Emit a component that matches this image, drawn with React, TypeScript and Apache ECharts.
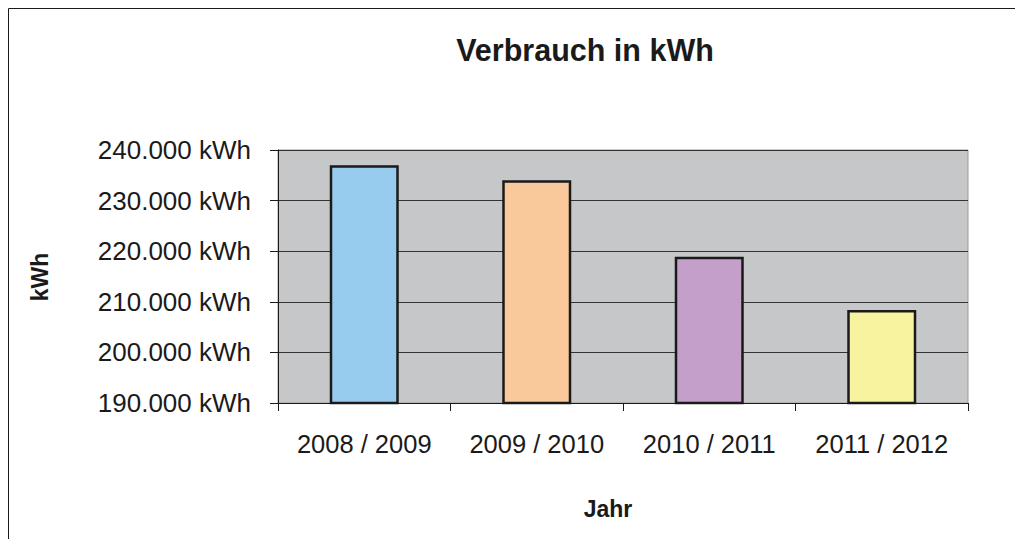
import React, { useEffect, useRef } from "react";
import * as echarts from "echarts";

const categories = ["2008 / 2009", "2009 / 2010", "2010 / 2011", "2011 / 2012"];
const values = [237000, 234000, 218900, 208400];
const barColors = ["#98CCEE", "#FAC99B", "#C39FCA", "#F8F39E"];
const yTicks = [190000, 200000, 210000, 220000, 230000, 240000];

const fmt = (v: number) => {
  const s = Math.round(v).toString();
  return s.replace(/\B(?=(\d{3})+(?!\d))/g, ".") + " kWh";
};

export default function App() {
  const ref = useRef<HTMLDivElement>(null);
  useEffect(() => {
    const chart = echarts.init(ref.current!, null, { renderer: "svg" });
    const font = "Liberation Sans, Arial, sans-serif";
    chart.setOption({
      animation: false,
      backgroundColor: "#ffffff",
      graphic: [
        {
          type: "line",
          shape: { x1: 0.5, y1: 0.5, x2: 1015, y2: 0.5 },
          style: { stroke: "#1a1a1a", lineWidth: 1 },
        },
        {
          type: "line",
          shape: { x1: 0.5, y1: 0.5, x2: 0.5, y2: 531 },
          style: { stroke: "#1a1a1a", lineWidth: 1 },
        },
        {
          type: "text",
          x: 577,
          y: 42,
          style: {
            text: "Verbrauch in kWh",
            fontFamily: font,
            fontSize: 30.5,
            fontWeight: "bold",
            fill: "#1a1a1a",
            align: "center",
            verticalAlign: "middle",
          },
        },
        {
          type: "text",
          x: 32,
          y: 269,
          rotation: Math.PI / 2,
          style: {
            text: "kWh",
            fontFamily: font,
            fontSize: 23,
            fontWeight: "bold",
            fill: "#1a1a1a",
            align: "center",
            verticalAlign: "middle",
          },
        },
        {
          type: "text",
          x: 600,
          y: 501,
          style: {
            text: "Jahr",
            fontFamily: font,
            fontSize: 23,
            fontWeight: "bold",
            fill: "#1a1a1a",
            align: "center",
            verticalAlign: "middle",
          },
        },
      ],
      grid: {
        left: 270,
        top: 142,
        right: 55,
        bottom: 136,
        show: true,
        backgroundColor: "#C6C7C9",
        borderColor: "#9a9a9a",
        borderWidth: 1,
      },
      xAxis: {
        type: "category",
        data: categories,
        axisLine: { lineStyle: { color: "#1a1a1a", width: 1 } },
        axisTick: { show: true, interval: 0, length: 8, lineStyle: { color: "#1a1a1a" } },
        axisLabel: {
          interval: 0,
          hideOverlap: false,
          margin: 28,
          fontFamily: font,
          fontSize: 25.5,
          color: "#1a1a1a",
        },
      },
      yAxis: {
        type: "value",
        min: yTicks[0],
        max: yTicks[yTicks.length - 1],
        interval: 10000,
        axisLine: { show: true, lineStyle: { color: "#1a1a1a", width: 1 } },
        axisTick: { show: true, length: 8, lineStyle: { color: "#1a1a1a" } },
        splitLine: { show: true, lineStyle: { color: "#333333", width: 1 } },
        axisLabel: {
          margin: 27,
          fontFamily: font,
          fontSize: 26,
          color: "#1a1a1a",
          formatter: (v: number) => fmt(v),
        },
      },
      series: [
        {
          type: "bar",
          barWidth: "40%",
          data: values.map((v, i) => ({
            value: v,
            itemStyle: { color: barColors[i], borderColor: "#1a1a1a", borderWidth: 2.5 },
          })),
        },
      ],
    });
    return () => chart.dispose();
  }, []);
  return <div ref={ref} style={{ width: 1015, height: 531 }} />;
}
